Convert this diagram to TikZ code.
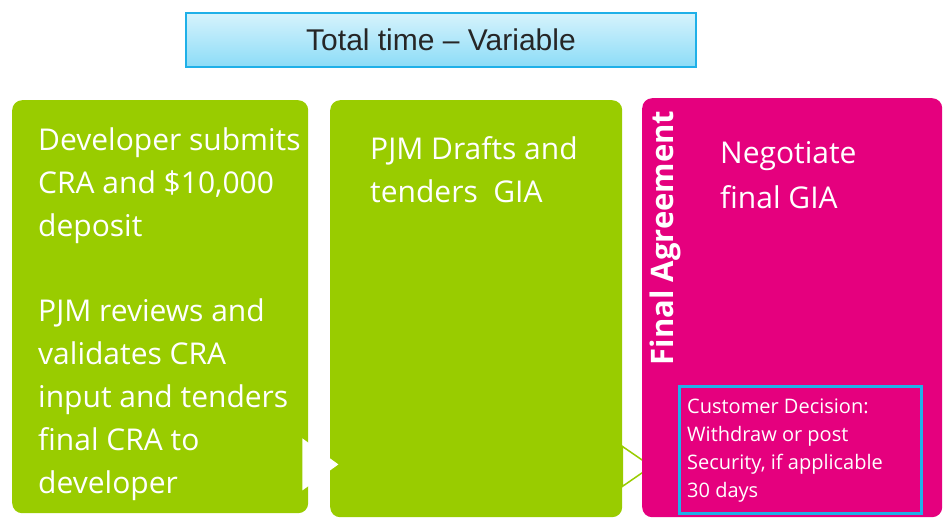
\documentclass[tikz,border=0pt]{standalone}
\usepackage{fontspec}
\setmainfont{Open Sans}
\newfontfamily\titlefont{Liberation Sans}
\usetikzlibrary{calc}
\definecolor{verde}{HTML}{99CC00}
\definecolor{fucsia}{HTML}{E5007E}
\definecolor{celeste}{HTML}{1FB0E8}
\definecolor{cielochiaro}{HTML}{D6F3FC}
\definecolor{cielo}{HTML}{8CDCF7}

\begin{document}
\begin{tikzpicture}[x=1pt, y=-1pt,
		box/.style={rectangle, rounded corners=10pt, anchor=north west, inner sep=0pt},
		testo/.style={anchor=base west, align=left, text=white, inner sep=0pt, font=\fontsize{30}{43}\selectfont},
		freccia/.style={fill=white, line width=1.5pt}]
	\useasboundingbox (0,0) rectangle (947,517);
	
	% Riquadro del titolo
	\node[draw=celeste, line width=1.5pt, top color=cielochiaro, bottom color=cielo, minimum width=510pt, minimum height=54pt, inner sep=0pt, text=black!85, font=\titlefont\fontsize{30}{36}\selectfont] (tempo) at (441,40) {Total time – Variable};
	
	% Fasi verdi
	\node[box, fill=verde, minimum width=296pt, minimum height=413pt] (invio) at (12,100) {};
	\node[box, fill=verde, minimum width=292pt, minimum height=417pt] (bozza) at (330,100) {};
	
	% Frecce tra le fasi
	\fill[freccia] ($(invio.south east)+(-6,-75)$) -- ($(invio.south east)+(30,-49)$) -- ($(invio.south east)+(-6,-23)$) -- cycle;
	\filldraw[freccia, draw=verde] ($(bozza.south east)+(0,-71)$) -- ($(bozza.south east)+(29,-51)$) -- ($(bozza.south east)+(0,-31)$) -- cycle;
	
	% Fase finale
	\node[box, fill=fucsia, minimum width=300pt, minimum height=419pt] (accordo) at (642,98) {};
	\node[rotate=90, text=white, inner sep=0pt, font=\bfseries\fontsize{31}{36}\selectfont] (titoloaccordo) at (665,238) {Final Agreement};
	
	% Testi (ancorati all'ultima riga)
	\node[testo] (invio1) at (38,236) {Developer submits\\CRA and \$10,000\\deposit};
	\node[testo] (invio2) at (38,493) {PJM reviews and\\validates CRA\\input and tenders\\final CRA to\\developer};
	\node[testo] (bozza1) at (370,202) {PJM Drafts and\\tenders\ \ GIA};
	\node[testo, font=\fontsize{30}{45}\selectfont] (accordo1) at (720,208) {Negotiate\\final GIA};
	
	% Decisione del cliente
	\node[box, rounded corners=0pt, draw=celeste, line width=2.5pt, minimum width=242pt, minimum height=127pt] (decisione) at (678,385) {};
	\node[testo, font=\fontsize{20}{28}\selectfont] (decisione1) at (687,497) {Customer Decision:\\Withdraw or post\\Security, if applicable\\30 days};
\end{tikzpicture}
\end{document}
